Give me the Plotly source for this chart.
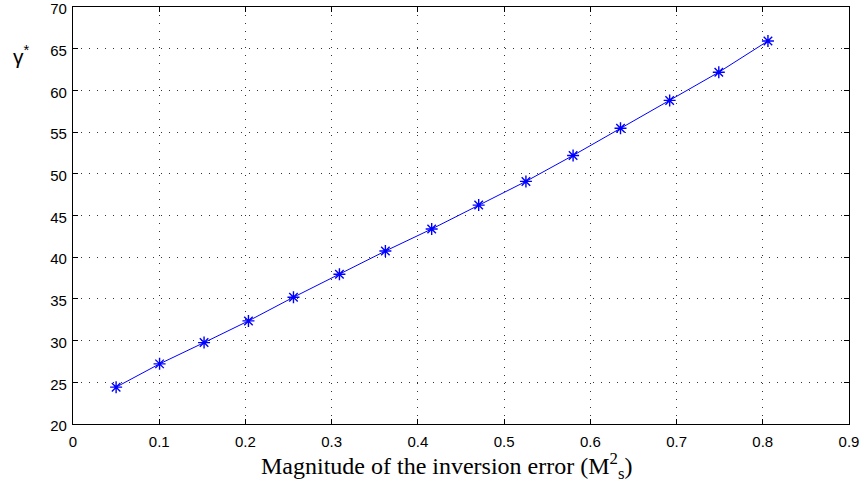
import plotly.graph_objects as go

x_vals = [0.050, 0.1004, 0.152, 0.2035, 0.2557, 0.309, 0.3623, 0.416, 0.4705, 0.5253, 0.580, 0.635, 0.692, 0.749, 0.806]
y_vals = [24.42, 27.21, 29.76, 32.36, 35.20, 37.95, 40.74, 43.38, 46.25, 49.09, 52.20, 55.47, 58.80, 62.18, 65.93]

x_ticks = [0, 0.1, 0.2, 0.3, 0.4, 0.5, 0.6, 0.7, 0.8, 0.9]
x_tick_labels = ["0", "0.1", "0.2", "0.3", "0.4", "0.5", "0.6", "0.7", "0.8", "0.9"]
y_ticks = [20, 25, 30, 35, 40, 45, 50, 55, 60, 65, 70]
y_tick_labels = [str(v) for v in y_ticks]

fig = go.Figure()
fig.add_trace(go.Scatter(
    x=x_vals, y=y_vals, mode="lines+markers",
    line=dict(color="#0000ff", width=1),
    marker=dict(symbol="asterisk-open", size=10, color="#0000ff",
                line=dict(color="#0000ff", width=1.4)),
    showlegend=False,
))

axis_common = dict(
    showline=True, linecolor="black", linewidth=1.2, mirror="ticks",
    ticks="inside", ticklen=5, tickcolor="black", tickwidth=1,
    showgrid=True, gridcolor="rgba(0,0,0,0.8)", gridwidth=1, griddash="1px,7px",
    zeroline=False, ticklabeloverflow="allow", automargin=False,
    tickfont=dict(family="Liberation Sans, Arial, sans-serif", size=15, color="black"),
)

fig.update_xaxes(
    range=[0, 0.9], tickvals=x_ticks, ticktext=x_tick_labels,
    ticklabelstandoff=4,
    **axis_common,
)
fig.update_yaxes(
    range=[20, 70], tickvals=y_ticks, ticktext=y_tick_labels,
    ticklabelstandoff=2, ticklabelshift=2,
    **axis_common,
)

fig.add_annotation(
    text="Magnitude of the inversion error (M<sup>2</sup><sub>s</sub>)",
    xref="paper", yref="paper", x=0.4826, y=-0.055,
    xanchor="center", yanchor="top", showarrow=False,
    font=dict(family="Liberation Serif, Times New Roman, serif", size=24, color="black"),
)

fig.add_annotation(
    text="γ<sup>*</sup>", xref="paper", yref="paper", x=-0.066, y=0.885,
    xanchor="center", yanchor="middle", showarrow=False,
    font=dict(family="Liberation Sans, Arial, sans-serif", size=21, color="black"),
)

fig.update_layout(
    width=866, height=487, autosize=False,
    margin=dict(l=73, r=17, t=7, b=63, autoexpand=False),
    paper_bgcolor="white", plot_bgcolor="white",
)

fig.write_html("out.html", config={"displayModeBar": False},
               post_script="document.body.style.margin='0';document.body.style.overflow='hidden';")
